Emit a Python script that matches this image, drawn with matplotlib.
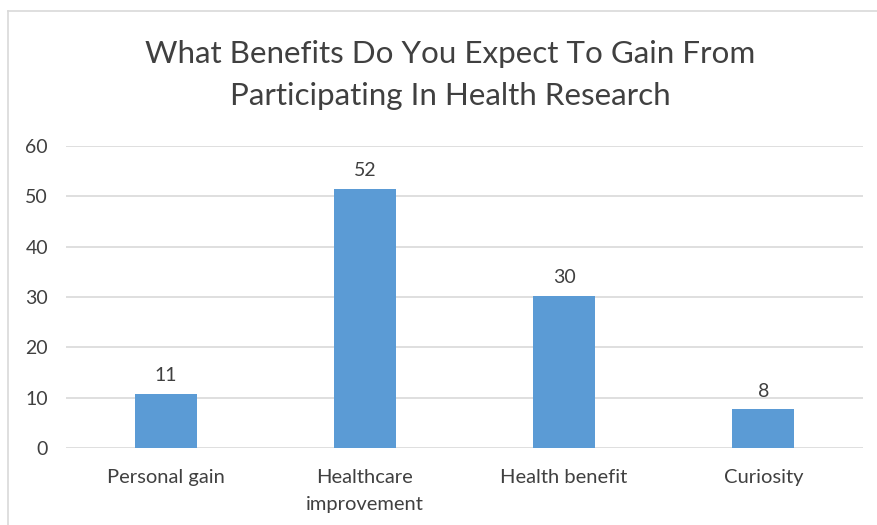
import matplotlib.pyplot as plt
from matplotlib.lines import Line2D

categories = ["Personal gain", "Healthcare\nimprovement", "Health benefit", "Curiosity"]
values = [10.7, 51.5, 30.2, 7.7]
labels = ["11", "52", "30", "8"]
yticks = [0, 10, 20, 30, 40, 50, 60]

plt.rcParams['font.family'] = ['Lato', 'DejaVu Sans']

fig = plt.figure(figsize=(8.77, 5.25), dpi=100)
ax = fig.add_axes([66/877, 1-448/525, 797/877, 302/525])

x = range(len(categories))
bars = ax.bar(x, values, width=0.31, color="#5B9BD5", zorder=3)
for xi, v, lab in zip(x, values, labels):
    ax.annotate(lab, (xi, v), xytext=(0, 7), textcoords="offset points",
                ha="center", va="bottom", fontsize=14, color="#404040")

ax.set_xlim(-0.5, len(categories) - 0.5)
ax.set_ylim(0, 60)
ax.set_yticks(yticks)
ax.set_xticks(list(x))
ax.set_xticklabels(categories, fontsize=14.5, color="#404040", linespacing=1.75)
ax.tick_params(axis="y", labelsize=14, labelcolor="#404040", length=0, pad=13)
ax.tick_params(axis="x", length=0, pad=15)
ax.grid(axis="y", color="#D9D9D9", linewidth=1.2, zorder=0)
for s in ax.spines.values():
    s.set_visible(False)

fig.text(450/877, 1-75/525, "What Benefits Do You Expect To Gain From\nParticipating In Health Research",
         ha="center", va="center", fontsize=22.6, color="#404040", linespacing=1.65)

# chart frame (left and top edges visible)
fig.add_artist(Line2D([8/877, 8/877], [0, 1-11/525], transform=fig.transFigure, color="#D9D9D9", lw=1.2))
fig.add_artist(Line2D([8/877, 1], [1-11/525, 1-11/525], transform=fig.transFigure, color="#D9D9D9", lw=1.2))

fig.savefig("out.png", dpi=100)
plt.close()
